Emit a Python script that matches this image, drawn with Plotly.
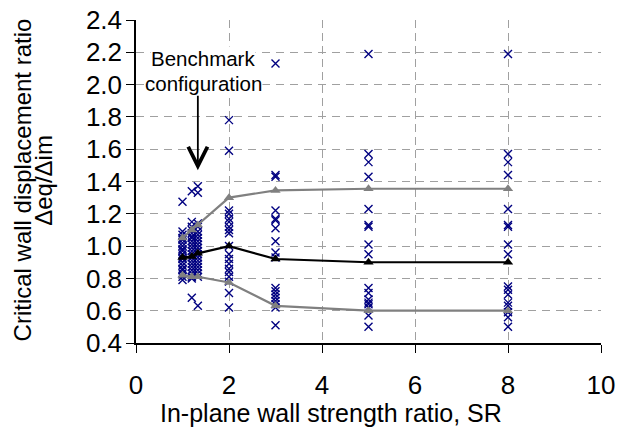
import plotly.graph_objects as go

# ---- data ----
sr_levels = [1.0, 1.2, 1.33, 2, 3, 5, 8]
mean_ratio = [0.93, 0.935, 0.955, 1.00, 0.92, 0.90, 0.90]
upper_ratio = [1.05, 1.10, 1.13, 1.30, 1.345, 1.355, 1.355]
lower_ratio = [0.82, 0.81, 0.81, 0.775, 0.63, 0.60, 0.60]

pts_sr_1_00 = [1.275, 1.09, 1.07, 1.05, 1.04, 1.02, 1.00, 0.98, 0.97, 0.95,
               0.93, 0.92, 0.90, 0.88, 0.86, 0.85, 0.83, 0.81, 0.79]
pts_sr_1_20 = [1.34, 1.15, 1.12, 1.10, 1.08, 1.06, 1.05, 1.03, 1.01, 0.99,
               0.97, 0.95, 0.93, 0.91, 0.89, 0.87, 0.85, 0.83, 0.81, 0.80, 0.68]
pts_sr_1_33 = [1.37, 1.33, 1.14, 1.12, 1.09, 1.07, 1.05, 1.03, 1.01, 0.99,
               0.97, 0.95, 0.93, 0.91, 0.89, 0.87, 0.85, 0.83, 0.81, 0.63]
pts_sr_2 = [1.78, 1.59, 1.22, 1.20, 1.17, 1.15, 1.12, 1.10, 1.08, 1.00,
            0.95, 0.92, 0.89, 0.86, 0.84, 0.81, 0.78, 0.71, 0.62]
pts_sr_3 = [2.13, 1.44, 1.43, 1.22, 1.17, 1.16, 1.11, 1.03, 0.96, 0.93,
            0.74, 0.72, 0.70, 0.68, 0.66, 0.64, 0.62, 0.51]
pts_sr_5 = [2.19, 1.57, 1.52, 1.43, 1.23, 1.13, 1.12, 1.01, 0.95, 0.74,
            0.71, 0.67, 0.65, 0.64, 0.62, 0.57, 0.50]
pts_sr_8 = [2.19, 1.57, 1.52, 1.44, 1.23, 1.13, 1.12, 1.01, 0.95, 0.75,
            0.73, 0.70, 0.65, 0.63, 0.59, 0.56, 0.50]

point_groups = [(1.0, pts_sr_1_00), (1.2, pts_sr_1_20), (1.33, pts_sr_1_33),
                (2, pts_sr_2), (3, pts_sr_3), (5, pts_sr_5), (8, pts_sr_8)]

x_ticks = [0, 2, 4, 6, 8, 10]
y_ticks = [0.4, 0.6, 0.8, 1.0, 1.2, 1.4, 1.6, 1.8, 2.0, 2.2, 2.4]

y_title_lines = ["Critical wall displacement ratio", "Δeq/Δim"]
x_title = "In-plane wall strength ratio, SR"
note_lines = ["Benchmark", "configuration"]

FONT = "Liberation Sans, Arial, sans-serif"
BLUE = "#000080"
GRAY = "#808080"

fig = go.Figure()

scatter_x = []
scatter_y = []
for sr, vals in point_groups:
    scatter_x += [sr] * len(vals)
    scatter_y += vals

fig.add_trace(go.Scatter(
    x=scatter_x, y=scatter_y, mode="markers",
    marker=dict(symbol="x-thin", size=8, line=dict(color=BLUE, width=1.4), color=BLUE),
    showlegend=False, hoverinfo="skip"))

for vals, col in [(upper_ratio, GRAY), (lower_ratio, GRAY), (mean_ratio, "black")]:
    fig.add_trace(go.Scatter(
        x=sr_levels, y=vals, mode="lines+markers",
        line=dict(color=col, width=2.2),
        marker=dict(symbol="triangle-up", size=9, color=col),
        showlegend=False, hoverinfo="skip"))

# "Benchmark configuration" note, one annotation per line
for txt, yv in zip(note_lines, [2.16, 2.005]):
    fig.add_annotation(x=1.45, y=yv, xref="x", yref="y", text=txt, showarrow=False,
                       font=dict(family=FONT, size=20.5, color="black"),
                       bgcolor="white", borderpad=0)
fig.add_annotation(x=1.33, y=1.47, xref="x", yref="y", text="",
                   showarrow=True, ax=0, ay=-76, arrowhead=5,
                   arrowwidth=1.8, arrowsize=2.1, arrowcolor="black")

# y-axis title as two rotated lines
fig.add_annotation(x=-0.244, y=0.505, xref="paper", yref="paper", text=y_title_lines[0],
                   textangle=-90, showarrow=False, xanchor="center", yanchor="middle",
                   font=dict(family=FONT, size=24, color="black"))
fig.add_annotation(x=-0.198, y=0.505, xref="paper", yref="paper", text=y_title_lines[1],
                   textangle=-90, showarrow=False, xanchor="center", yanchor="middle",
                   font=dict(family=FONT, size=24, color="black"))
# x-axis title
fig.add_annotation(x=0.419, y=-0.2167, xref="paper", yref="paper", text=x_title,
                   showarrow=False, xanchor="center", yanchor="middle",
                   font=dict(family=FONT, size=25, color="black"))

fig.update_layout(
    width=625, height=439,
    margin=dict(l=136, r=24, t=20, b=96),
    paper_bgcolor="white", plot_bgcolor="white",
    font=dict(family=FONT, size=26, color="black"),
)
fig.update_xaxes(
    automargin=False,
    range=[0, 10], tickvals=x_ticks, ticks="outside", ticklen=8, tickcolor="black",
    showline=True, linecolor="black", linewidth=1.5, zeroline=False,
    showgrid=True, gridcolor="#a0a0a0", griddash="8px,5px", gridwidth=1,
    ticklabelstandoff=10, ticklabeloverflow="allow", tickfont=dict(family=FONT, size=26),
)
fig.update_yaxes(
    automargin=False,
    range=[0.4, 2.4], tickvals=y_ticks, tickformat=".1f", ticks="outside", ticklen=8,
    tickcolor="black", showline=True, linecolor="black", linewidth=1.5, zeroline=False,
    showgrid=True, gridcolor="#a0a0a0", griddash="8px,6px", gridwidth=1,
    ticklabelstandoff=-1, ticklabeloverflow="allow", tickfont=dict(family=FONT, size=26),
)

# remove the browser's default 8px body margin so the figure fills the window
fig.write_html("out.html",
               config={"displayModeBar": False},
               post_script="document.body.style.margin='0';document.body.style.overflow='hidden';")
